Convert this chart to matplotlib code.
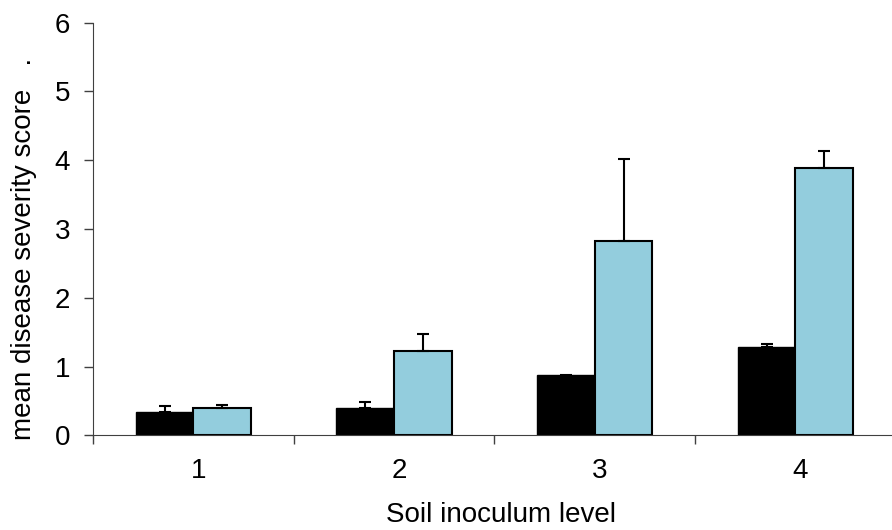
import numpy as np
import matplotlib.pyplot as plt
import matplotlib.transforms as mtransforms

plt.rcParams['font.family'] = ['Liberation Sans', 'DejaVu Sans']

levels = ['1', '2', '3', '4']
black_mean = [0.34, 0.40, 0.87, 1.29]
black_err = [0.08, 0.09, np.nan, 0.04]
blue_mean = [0.39, 1.23, 2.83, 3.89]
blue_err = [0.05, 0.25, 1.19, 0.24]

fig = plt.figure(figsize=(8.92, 5.30), dpi=100)
ax = fig.add_axes([93 / 892, 94.7 / 530, (895.8 - 93) / 892, 412.6 / 530])

x = np.arange(len(levels)) + 0.5
w = 0.287

ax.bar(x - w / 2, black_mean, w, color='black', edgecolor='black', linewidth=1.0, zorder=2)
ax.bar(x + w / 2, blue_mean, w, color='#93CDDD', edgecolor='black', linewidth=1.5, zorder=2)

# upper error bars only
ax.errorbar(x - w / 2, black_mean, yerr=[np.zeros(4), black_err], fmt='none',
            ecolor='black', elinewidth=1.5, capsize=4, capthick=1.5, zorder=3)
ax.errorbar(x + w / 2, blue_mean, yerr=[np.zeros(4), blue_err], fmt='none',
            ecolor='black', elinewidth=1.5, capsize=4, capthick=1.5, zorder=3)

ax.set_xlim(0, 4)
ax.set_ylim(0, 6)
ax.set_yticks(range(0, 7))

# tick marks between groups, labels centred under groups
ax.set_xticks(range(0, 5))
ax.set_xticklabels([])
ax.set_xticks(x, minor=True)
ax.set_xticklabels(levels, minor=True)
ax.tick_params(axis='x', which='major', direction='out', length=6.5, width=1, color='#404040')
ax.tick_params(axis='x', which='minor', length=0, pad=16, labelsize=20)
ax.tick_params(axis='y', direction='out', length=6.5, width=1, color='#404040', pad=10, labelsize=20)

shift = mtransforms.ScaledTranslation(5 / 100, 0, fig.dpi_scale_trans)
for lab in ax.get_xticklabels(minor=True):
    lab.set_transform(lab.get_transform() + shift)

for s in ['top', 'right']:
    ax.spines[s].set_visible(False)
ax.spines['left'].set_color('#404040')
ax.spines['bottom'].set_color('#404040')

fig.text(501 / 892, 8 / 530, 'Soil inoculum level', ha='center', va='baseline', fontsize=20)
fig.text(24 / 892, 1 - 249 / 530, 'mean disease severity score   .', rotation=90,
         ha='center', va='center', fontsize=20)

fig.savefig('out.png', dpi=100)
